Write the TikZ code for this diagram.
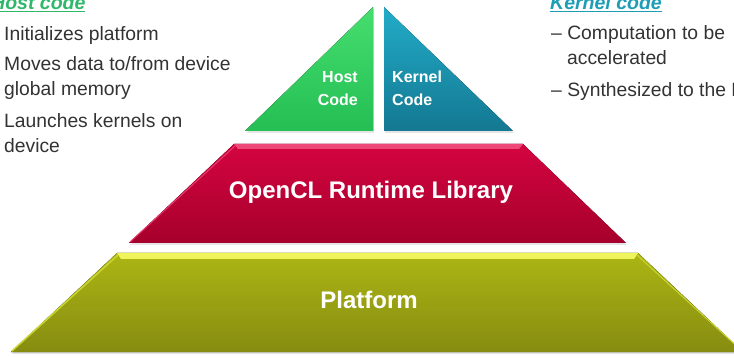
\documentclass[tikz,border=0pt]{standalone}
\usepackage{fontspec}
\setmainfont{Liberation Sans}
\usetikzlibrary{shadows}

\definecolor{bodygray}{HTML}{333333}
\definecolor{hostgreen}{HTML}{2FB86C}
\definecolor{kernelteal}{HTML}{1E9DB5}
\definecolor{platformtop}{RGB}{172,182,20}
\definecolor{platformbot}{RGB}{134,140,16}
\definecolor{platformband}{RGB}{240,244,92}
\definecolor{platformedge}{RGB}{200,214,50}
\definecolor{runtimetop}{RGB}{212,4,64}
\definecolor{runtimebot}{RGB}{166,0,44}
\definecolor{runtimeband}{RGB}{238,72,120}
\definecolor{runtimeedge}{RGB}{230,60,110}
\definecolor{hosttop}{RGB}{70,222,110}
\definecolor{hostbot}{RGB}{36,190,84}
\definecolor{kerneltop}{RGB}{34,172,200}
\definecolor{kernelbot}{RGB}{20,120,146}

\tikzset{
  bodytext/.style={font=\fontsize{19.3}{22}\selectfont, text=bodygray, anchor=base west, inner sep=0pt},
  headtext/.style={font=\fontsize{19.5}{22}\selectfont\bfseries\itshape, anchor=base west, inner sep=0pt},
  codelabel/.style={font=\fontsize{16}{19}\selectfont\bfseries, text=white, inner sep=0pt},
  layertext/.style={font=\fontsize{24}{28}\selectfont\bfseries, text=white, inner sep=0pt},
  softshadow/.style={drop shadow={opacity=0.2, shadow xshift=1pt, shadow yshift=-2pt}},
}

\begin{document}
\begin{tikzpicture}[x=1pt,y=-1pt]
\useasboundingbox (0,0) rectangle (734,358);
\clip (0,0) rectangle (734,358);
\fill[white] (0,0) rectangle (734,358);

% platform
\fill[softshadow, top color=platformtop, bottom color=platformbot]
  (117,253) -- (638,253) -- (743,352) -- (11,352) -- cycle;
\fill[platformband] (117,253) -- (638,253) -- (634,259) -- (121,259) -- cycle;
\draw[platformedge, line width=1.5pt] (118,255) -- (12,351);
\draw[platformedge, line width=1pt] (637,255) -- (742,351);
\node[layertext] (platform) at (369,300) {Platform};

% runtime library
\fill[softshadow, top color=runtimetop, bottom color=runtimebot]
  (234,144) -- (523,144) -- (626,243) -- (129,243) -- cycle;
\fill[runtimeband] (234,144) -- (523,144) -- (519,149) -- (238,149) -- cycle;
\draw[runtimeedge, line width=1pt] (235,146) -- (130,242);
\node[layertext] (runtime) at (371,192) {OpenCL Runtime Library};

% host and kernel code
\fill[softshadow, top color=hosttop, bottom color=hostbot]
  (373,7) -- (373,131) -- (245,131) -- cycle;
\fill[softshadow, top color=kerneltop, bottom color=kernelbot]
  (384,7) -- (513,131) -- (384,131) -- cycle;
\node[codelabel, anchor=east] (host1) at (358,77) {Host};
\node[codelabel, anchor=east] (host2) at (358,100) {Code};
\node[codelabel, anchor=west] (kern1) at (392,77) {Kernel};
\node[codelabel, anchor=west] (kern2) at (392,100) {Code};

% host code text
\node[headtext, text=hostgreen] (hosthead) at (-9,10) {\underline{Host code}};
\node[bodytext] (h1) at (4,40.5) {Initializes platform};
\node[bodytext] (h2) at (4,70.5) {Moves data to/from device};
\node[bodytext] (h3) at (4,95.5) {global memory};
\node[bodytext] (h4) at (4,128) {Launches kernels on};
\node[bodytext] (h5) at (4,152.5) {device};

% kernel code text
\node[headtext, text=kernelteal] (kernhead) at (550,10) {\underline{Kernel code}};
\node[bodytext] (k1) at (551,40) {– Computation to be};
\node[bodytext] (k2) at (567,65) {accelerated};
\node[bodytext] (k3) at (551,96.5) {– Synthesized to the FPGA};
\end{tikzpicture}
\end{document}
